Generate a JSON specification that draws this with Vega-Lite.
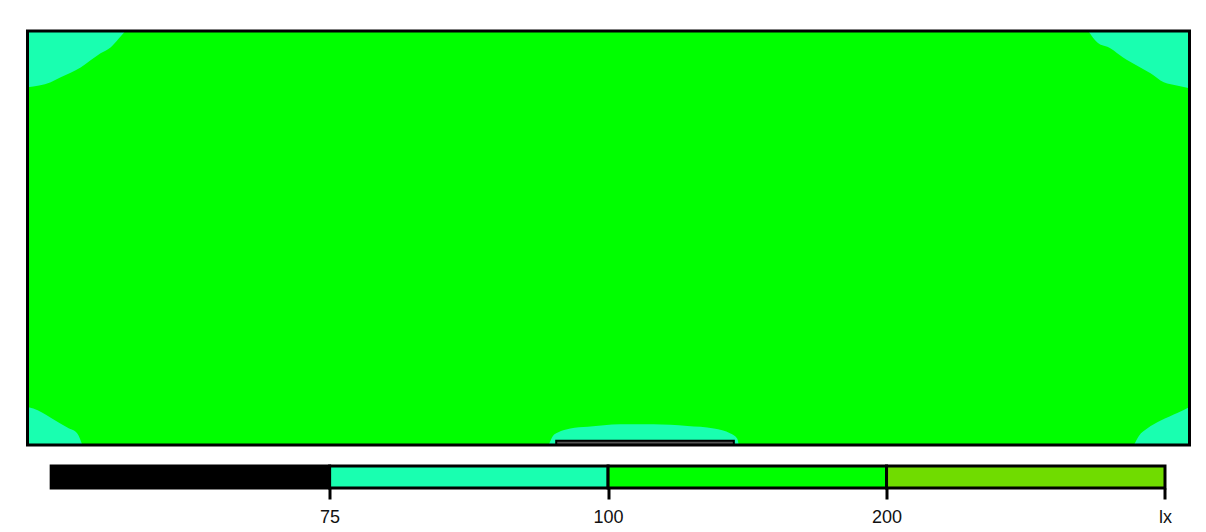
{
  "$schema": "https://vega.github.io/schema/vega-lite/v6.json",
  "padding": {"left": 25.5, "top": 29, "right": 5, "bottom": 0},
  "background": "white",
  "spacing": 17,
  "config": {"font": "Liberation Sans", "view": {"stroke": null}},
  "resolve": {"scale": {"x": "independent", "y": "independent"}},
  "datasets": {
    "room": [{"x0": 0, "x1": 14, "y0": 0, "y1": 5, "band": "100–200"}],
    "door": [{"x0": 6.37, "x1": 8.51, "y0": 0, "y1": 0.05}],
    "zones": [
      {"region": "TL", "edge": "top", "x": 0, "y": 4.32, "band": "75–100"},
      {"region": "TL", "edge": "top", "x": 0.28, "y": 4.38, "band": "75–100"},
      {"region": "TL", "edge": "top", "x": 0.4, "y": 4.44, "band": "75–100"},
      {"region": "TL", "edge": "top", "x": 0.64, "y": 4.56, "band": "75–100"},
      {"region": "TL", "edge": "top", "x": 0.88, "y": 4.73, "band": "75–100"},
      {"region": "TL", "edge": "top", "x": 1.0, "y": 4.8, "band": "75–100"},
      {"region": "TL", "edge": "top", "x": 1.1, "y": 4.91, "band": "75–100"},
      {"region": "TL", "edge": "top", "x": 1.18, "y": 5.0, "band": "75–100"},
      {"region": "TR", "edge": "top", "x": 12.78, "y": 5.0, "band": "75–100"},
      {"region": "TR", "edge": "top", "x": 12.89, "y": 4.86, "band": "75–100"},
      {"region": "TR", "edge": "top", "x": 13.05, "y": 4.79, "band": "75–100"},
      {"region": "TR", "edge": "top", "x": 13.2, "y": 4.68, "band": "75–100"},
      {"region": "TR", "edge": "top", "x": 13.37, "y": 4.58, "band": "75–100"},
      {"region": "TR", "edge": "top", "x": 13.53, "y": 4.49, "band": "75–100"},
      {"region": "TR", "edge": "top", "x": 13.69, "y": 4.38, "band": "75–100"},
      {"region": "TR", "edge": "top", "x": 13.86, "y": 4.34, "band": "75–100"},
      {"region": "TR", "edge": "top", "x": 14.0, "y": 4.31, "band": "75–100"},
      {"region": "BL", "edge": "bottom", "x": 0, "y": 0.46, "band": "75–100"},
      {"region": "BL", "edge": "bottom", "x": 0.07, "y": 0.44, "band": "75–100"},
      {"region": "BL", "edge": "bottom", "x": 0.28, "y": 0.33, "band": "75–100"},
      {"region": "BL", "edge": "bottom", "x": 0.48, "y": 0.21, "band": "75–100"},
      {"region": "BL", "edge": "bottom", "x": 0.6, "y": 0.14, "band": "75–100"},
      {"region": "BL", "edge": "bottom", "x": 0.66, "y": 0, "band": "75–100"},
      {"region": "BR", "edge": "bottom", "x": 13.33, "y": 0, "band": "75–100"},
      {"region": "BR", "edge": "bottom", "x": 13.39, "y": 0.11, "band": "75–100"},
      {"region": "BR", "edge": "bottom", "x": 13.49, "y": 0.2, "band": "75–100"},
      {"region": "BR", "edge": "bottom", "x": 13.66, "y": 0.3, "band": "75–100"},
      {"region": "BR", "edge": "bottom", "x": 13.86, "y": 0.39, "band": "75–100"},
      {"region": "BR", "edge": "bottom", "x": 14.0, "y": 0.46, "band": "75–100"},
      {"region": "BC", "edge": "bottom", "x": 6.28, "y": 0, "band": "75–100"},
      {"region": "BC", "edge": "bottom", "x": 6.33, "y": 0.11, "band": "75–100"},
      {"region": "BC", "edge": "bottom", "x": 6.39, "y": 0.15, "band": "75–100"},
      {"region": "BC", "edge": "bottom", "x": 6.54, "y": 0.2, "band": "75–100"},
      {"region": "BC", "edge": "bottom", "x": 6.75, "y": 0.22, "band": "75–100"},
      {"region": "BC", "edge": "bottom", "x": 7.14, "y": 0.25, "band": "75–100"},
      {"region": "BC", "edge": "bottom", "x": 7.54, "y": 0.25, "band": "75–100"},
      {"region": "BC", "edge": "bottom", "x": 7.95, "y": 0.23, "band": "75–100"},
      {"region": "BC", "edge": "bottom", "x": 8.27, "y": 0.2, "band": "75–100"},
      {"region": "BC", "edge": "bottom", "x": 8.47, "y": 0.14, "band": "75–100"},
      {"region": "BC", "edge": "bottom", "x": 8.55, "y": 0.08, "band": "75–100"},
      {"region": "BC", "edge": "bottom", "x": 8.57, "y": 0, "band": "75–100"}
    ],
    "legend": [
      {"band": "<75", "lo": 0, "hi": 1},
      {"band": "75–100", "lo": 1, "hi": 2},
      {"band": "100–200", "lo": 2, "hi": 3},
      {"band": ">200", "lo": 3, "hi": 4}
    ]
  },
  "vconcat": [
    {
      "width": 1162,
      "height": 414,
      "layer": [
        {
          "data": {"name": "room"},
          "mark": {"type": "rect"},
          "encoding": {
            "x": {"field": "x0", "type": "quantitative", "scale": {"domain": [0, 14], "nice": false, "zero": false}, "axis": null},
            "x2": {"field": "x1"},
            "y": {"field": "y0", "type": "quantitative", "scale": {"domain": [0, 5], "nice": false, "zero": false}, "axis": null},
            "y2": {"field": "y1"},
            "color": {"field": "band", "type": "nominal", "legend": null,
              "scale": {"domain": ["<75", "75–100", "100–200", ">200"], "range": ["#000000", "#19ffb0", "#00ff00", "#70dc00"]}}
          }
        },
        {
          "data": {"name": "zones"},
          "transform": [{"filter": "datum.edge == 'top'"}],
          "mark": {"type": "area", "interpolate": "monotone"},
          "encoding": {
            "x": {"field": "x", "type": "quantitative"},
            "y": {"field": "y", "type": "quantitative"},
            "y2": {"datum": 5},
            "detail": {"field": "region"},
            "color": {"field": "band", "type": "nominal", "legend": null}
          }
        },
        {
          "data": {"name": "zones"},
          "transform": [{"filter": "datum.edge == 'bottom'"}],
          "mark": {"type": "area", "interpolate": "monotone"},
          "encoding": {
            "x": {"field": "x", "type": "quantitative"},
            "y": {"field": "y", "type": "quantitative"},
            "y2": {"datum": 0},
            "detail": {"field": "region"},
            "color": {"field": "band", "type": "nominal", "legend": null}
          }
        },
        {
          "data": {"name": "door"},
          "mark": {"type": "rect", "fill": "#555555", "stroke": "black", "strokeWidth": 2},
          "encoding": {
            "x": {"field": "x0", "type": "quantitative"},
            "x2": {"field": "x1"},
            "y": {"field": "y0", "type": "quantitative"},
            "y2": {"field": "y1"}
          }
        },
        {
          "data": {"name": "room"},
          "mark": {"type": "rect", "filled": false, "stroke": "black", "strokeWidth": 3},
          "encoding": {
            "x": {"field": "x0", "type": "quantitative"},
            "x2": {"field": "x1"},
            "y": {"field": "y0", "type": "quantitative"},
            "y2": {"field": "y1"}
          }
        }
      ]
    },
    {
      "width": 1162,
      "height": 22,
      "data": {"name": "legend"},
      "mark": {"type": "rect", "stroke": "black", "strokeWidth": 3},
      "encoding": {
        "x": {"field": "lo", "type": "quantitative",
          "scale": {"domain": [-0.085, 4.088], "nice": false, "zero": false},
          "axis": {"values": [1, 2, 3, 4], "title": null, "domain": false, "grid": false,
            "tickColor": "black", "tickWidth": 3, "tickSize": 11,
            "labelFont": "Liberation Sans", "labelFontSize": 18, "labelColor": "#111111", "labelPadding": 9,
            "labelExpr": "datum.value == 1 ? '75' : datum.value == 2 ? '100' : datum.value == 3 ? '200' : 'lx'"}},
        "x2": {"field": "hi"},
        "color": {"field": "band", "type": "nominal", "legend": null}
      }
    }
  ]
}
